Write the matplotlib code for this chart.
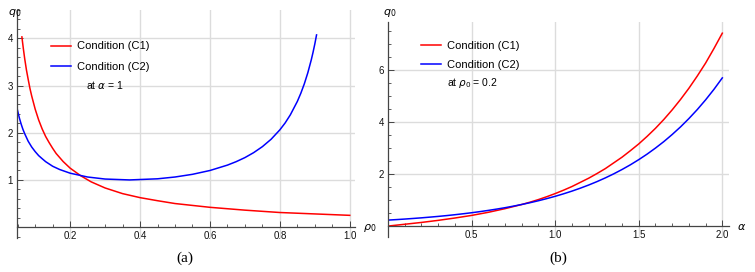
import numpy as np
import matplotlib.pyplot as plt
from matplotlib.ticker import MultipleLocator

plt.rcParams['font.family'] = ['Liberation Sans', 'DejaVu Sans']
plt.rcParams['mathtext.fontset'] = 'dejavusans'

# Panel (a): q0 vs rho0 at alpha = 1
rho_c1 = [0.062, 0.066, 0.07, 0.075, 0.08, 0.085, 0.09, 0.10, 0.11, 0.12, 0.13,
          0.14, 0.15, 0.16, 0.18, 0.20, 0.23, 0.26, 0.30, 0.35, 0.40, 0.45,
          0.50, 0.60, 0.70, 0.80, 0.90, 1.00]
q_c1_a = [4.03, 3.79, 3.57, 3.33, 3.13, 2.94, 2.78, 2.50, 2.27, 2.08, 1.92,
          1.79, 1.67, 1.56, 1.39, 1.25, 1.09, 0.96, 0.83, 0.71, 0.625, 0.56,
          0.50, 0.42, 0.36, 0.31, 0.28, 0.25]
rho_c2 = [0.048, 0.055, 0.06, 0.065, 0.07, 0.08, 0.09, 0.10, 0.11, 0.12, 0.13,
          0.15, 0.17, 0.20, 0.25, 0.30, 0.37, 0.45, 0.50, 0.55, 0.60, 0.65,
          0.675, 0.70, 0.725, 0.75, 0.775, 0.80, 0.815, 0.83, 0.85, 0.86,
          0.87, 0.88, 0.89, 0.895, 0.90, 0.905]
q_c2_a = [2.52, 2.306, 2.18, 2.071, 1.98, 1.82, 1.698, 1.60, 1.515, 1.45, 1.387,
          1.29, 1.221, 1.143, 1.062, 1.019, 1.000, 1.024, 1.062, 1.119, 1.200, 1.314,
          1.387, 1.473, 1.578, 1.705, 1.862, 2.061, 2.206, 2.379, 2.663, 2.836,
          3.036, 3.270, 3.547, 3.705, 3.879, 4.072]

# Panel (b): q0 vs alpha at rho0 = 0.2
alpha = [0.0, 0.05, 0.1, 0.15, 0.2, 0.25, 0.3, 0.35, 0.4, 0.45, 0.5,
         0.55, 0.6, 0.65, 0.7, 0.75, 0.8, 0.85, 0.9, 0.95, 1.0,
         1.05, 1.1, 1.15, 1.2, 1.25, 1.3, 1.35, 1.4, 1.45, 1.5,
         1.55, 1.6, 1.65, 1.7, 1.75, 1.8, 1.85, 1.9, 1.95, 2.0]
q_c1_b = [0.0, 0.035, 0.07, 0.105, 0.14, 0.18, 0.22, 0.265, 0.31, 0.36, 0.41,
          0.47, 0.53, 0.60, 0.67, 0.75, 0.83, 0.92, 1.02, 1.13, 1.25,
          1.38, 1.52, 1.68, 1.84, 2.02, 2.21, 2.43, 2.65, 2.90, 3.16,
          3.45, 3.76, 4.10, 4.47, 4.87, 5.30, 5.77, 6.27, 6.83, 7.42]
q_c2_b = [0.23, 0.249, 0.27, 0.293, 0.317, 0.344, 0.372, 0.403, 0.437, 0.474, 0.513,
          0.556, 0.603, 0.653, 0.707, 0.767, 0.831, 0.900, 0.975, 1.057, 1.145,
          1.241, 1.344, 1.457, 1.578, 1.710, 1.853, 2.008, 2.176, 2.357, 2.555,
          2.768, 3.000, 3.249, 3.522, 3.815, 4.135, 4.480, 4.855, 5.260, 5.70]

labels = ['Condition (C1)', 'Condition (C2)']
W, H = 755, 272

fig = plt.figure(figsize=(W / 100, H / 100), dpi=100)


def axes_px(x0, y0, x1, y1):
    return fig.add_axes([x0 / W, 1 - y1 / H, (x1 - x0) / W, (y1 - y0) / H])


def style(ax):
    for s in ['top', 'right']:
        ax.spines[s].set_visible(False)
    ax.spines['bottom'].set_position(('data', 0))
    for s in ['left', 'bottom']:
        ax.spines[s].set_color('#444444')
        ax.spines[s].set_linewidth(0.9)
    ax.tick_params(which='both', direction='in', colors='#444444',
                   labelsize=7, labelcolor='#111111')
    ax.tick_params(which='major', length=4, width=0.7)
    ax.tick_params(which='minor', length=2, width=0.6)
    ax.tick_params(axis='x', pad=2.5)
    ax.tick_params(axis='y', pad=3)
    ax.grid(True, which='major', color='#dcdcdc', linewidth=1.0)
    ax.set_axisbelow(True)


# (a)
ax1 = axes_px(17, 10, 355, 238)
ax1.plot(rho_c1, q_c1_a, color='#ff0000', lw=1.1, label=labels[0])
ax1.plot(rho_c2, q_c2_a, color='#0000ff', lw=1.1, label=labels[1])
ax1.set_xlim(0.048, 1.015)
ax1.set_ylim(-0.23, 4.6)
ax1.set_xticks([0.2, 0.4, 0.6, 0.8, 1.0])
ax1.set_yticks([1, 2, 3, 4])
ax1.xaxis.set_minor_locator(MultipleLocator(0.05))
ax1.yaxis.set_minor_locator(MultipleLocator(0.2))
style(ax1)
ax1.legend(loc='upper left', bbox_to_anchor=(0.1, 0.862), frameon=False,
           fontsize=8, handlelength=1.8, handletextpad=0.55, labelspacing=0.95,
           borderpad=0, borderaxespad=0)
ax1.text(0.204, 0.671, r'at $\alpha$ = 1', transform=ax1.transAxes,
         fontsize=7.5, va='center')
fig.text(8 / W, 1 - 13 / H, r'$q_0$', fontsize=8, va='center')
fig.text(363 / W, 1 - 228 / H, r'$\rho_0$', fontsize=8, va='center')

# (b)
ax2 = axes_px(388, 22, 729, 237)
ax2.plot(alpha, q_c1_b, color='#ff0000', lw=1.1, label=labels[0])
ax2.plot(alpha, q_c2_b, color='#0000ff', lw=1.1, label=labels[1])
ax2.set_xlim(0, 2.04)
ax2.set_ylim(-0.42, 7.85)
ax2.set_xticks([0.5, 1.0, 1.5, 2.0])
ax2.set_yticks([2, 4, 6])
ax2.xaxis.set_minor_locator(MultipleLocator(0.1))
ax2.yaxis.set_minor_locator(MultipleLocator(0.5))
style(ax2)
ax2.legend(loc='upper left', bbox_to_anchor=(0.097, 0.912), frameon=False,
           fontsize=8, handlelength=1.8, handletextpad=0.55, labelspacing=0.85,
           borderpad=0, borderaxespad=0)
ax2.text(0.173, 0.716, r'at $\rho_0$ = 0.2', transform=ax2.transAxes,
         fontsize=7.5, va='center')
fig.text(383 / W, 1 - 13 / H, r'$q_0$', fontsize=8, va='center')
fig.text(737 / W, 1 - 227 / H, r'$\alpha$', fontsize=8, va='center')

fig.text(185 / W, 1 - 258 / H, '(a)', fontsize=11, family='Liberation Serif',
         ha='center', va='center')
fig.text(558 / W, 1 - 258 / H, '(b)', fontsize=11, family='Liberation Serif',
         ha='center', va='center')

fig.savefig('out.png', dpi=100)
